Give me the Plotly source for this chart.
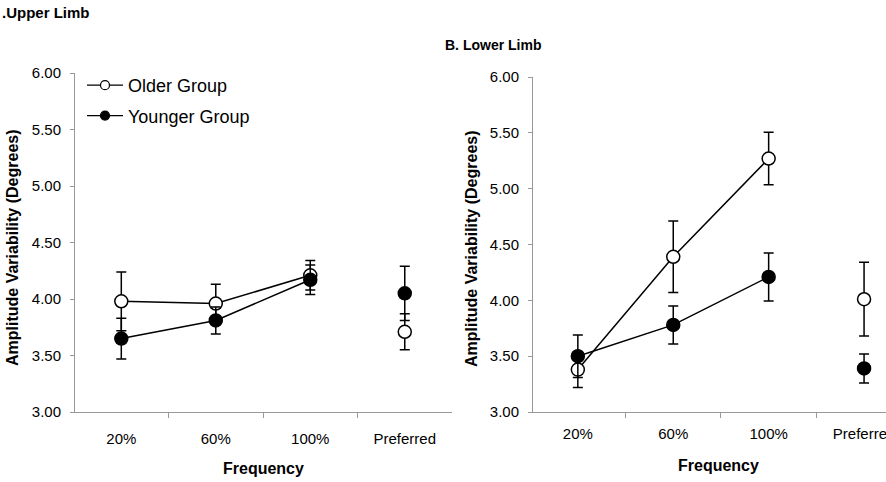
import plotly.graph_objects as go

categories = ["20%", "60%", "100%", "Preferred"]

# A. Upper limb
upper_older = [3.98, 3.96, 4.21, 3.71]
upper_older_err = [0.26, 0.17, 0.13, 0.16]
upper_younger = [3.65, 3.81, 4.17, 4.05]
upper_younger_err = [0.18, 0.12, 0.13, 0.24]

# B. Lower limb
lower_older = [3.38, 4.39, 5.27, 4.01]
lower_older_err = [0.16, 0.32, 0.235, 0.33]
lower_younger = [3.50, 3.78, 4.21, 3.39]
lower_younger_err = [0.19, 0.17, 0.215, 0.13]

y_ticks = [3.0, 3.5, 4.0, 4.5, 5.0, 5.5, 6.0]
y_ticktext = ["3.00", "3.50", "4.00", "4.50", "5.00", "5.50", "6.00"]

FONT = "Arial, 'Liberation Sans', sans-serif"

fig = go.Figure()


def add_group(vals, errs, name, filled, xa, ya):
    marker = dict(size=13, color="black" if filled else "white",
                  line=dict(color="black", width=1.5))
    err = lambda e: dict(type="data", array=e, symmetric=True, color="black",
                         thickness=1.5, width=5)
    fig.add_trace(go.Scatter(
        x=categories[:3], y=vals[:3], mode="lines+markers", name=name,
        line=dict(color="black", width=1.5), marker=marker,
        error_y=err(errs[:3]), xaxis=xa, yaxis=ya, showlegend=False,
    ))
    fig.add_trace(go.Scatter(
        x=categories[3:], y=vals[3:], mode="markers", name=name,
        marker=marker, error_y=err(errs[3:]), xaxis=xa, yaxis=ya,
        showlegend=False,
    ))


def add_legend_entry(name, filled, group):
    fig.add_trace(go.Scatter(
        x=[None], y=[None], mode="lines+markers", name=name, legendgroup=group,
        line=dict(color="black", width=1.2),
        marker=dict(size=9, color="black" if filled else "white",
                    line=dict(color="black", width=1.2)),
        xaxis="x", yaxis="y", showlegend=True,
    ))


add_legend_entry("Older Group", False, "older")
add_legend_entry("Younger Group", True, "younger")
add_group(upper_older, upper_older_err, "Older Group", False, "x", "y")
add_group(upper_younger, upper_younger_err, "Younger Group", True, "x", "y")
add_group(lower_older, lower_older_err, "Older Group", False, "x2", "y2")
add_group(lower_younger, lower_younger_err, "Younger Group", True, "x2", "y2")

W, H = 886, 482
tickfont = dict(family=FONT, size=15, color="black")

xcommon = dict(type="category", categoryorder="array", categoryarray=categories,
               showline=True, linecolor="#999", linewidth=1, showgrid=False,
               zeroline=False, ticks="outside", tickson="boundaries", ticklen=5,
               tickcolor="#999", tickfont=tickfont, automargin=False)
ycommon = dict(range=[3, 6], tickvals=y_ticks, ticktext=y_ticktext,
               showline=True, linecolor="#999", linewidth=1, showgrid=False,
               zeroline=False, ticks="outside", ticklen=4, tickcolor="#999",
               tickfont=tickfont, ticklabelstandoff=6, automargin=False)

fig.update_layout(
    width=W, height=H,
    margin=dict(l=0, r=0, t=0, b=0, autoexpand=False),
    paper_bgcolor="white", plot_bgcolor="white",
    font=dict(family=FONT, color="black"),
    xaxis=dict(xcommon, domain=[75 / W, 452 / W], range=[-0.49, 3.5], anchor="y",
               ticklabelstandoff=13),
    yaxis=dict(ycommon, domain=[(H - 412) / H, (H - 73) / H], anchor="x"),
    xaxis2=dict(xcommon, domain=[533 / W, 1.0], range=[-0.47, 3.23], anchor="y2",
                ticklabelstandoff=8),
    yaxis2=dict(ycommon, domain=[(H - 412) / H, (H - 77) / H], anchor="x2"),
    legend=dict(x=82 / W, y=(H - 67) / H, xanchor="left", yanchor="top",
                bgcolor="rgba(0,0,0,0)", font=dict(family=FONT, size=18),
                traceorder="grouped", tracegroupgap=4, itemwidth=36),
    annotations=[
        dict(text="<b>.Upper Limb</b>", x=0, y=1 - 12 / H, xref="paper", yref="paper",
             xanchor="left", yanchor="middle", showarrow=False,
             font=dict(family=FONT, size=15)),
        dict(text="<b>B. Lower Limb</b>", x=443 / W, y=1 - 45 / H, xref="paper", yref="paper",
             xanchor="left", yanchor="middle", showarrow=False,
             font=dict(family=FONT, size=14)),
        dict(text="<b>Amplitude Variability (Degrees)</b>", x=13 / W, y=1 - 248 / H,
             xref="paper", yref="paper", textangle=-90, showarrow=False,
             xanchor="center", yanchor="middle", font=dict(family=FONT, size=16)),
        dict(text="<b>Amplitude Variability (Degrees)</b>", x=472 / W, y=1 - 248 / H,
             xref="paper", yref="paper", textangle=-90, showarrow=False,
             xanchor="center", yanchor="middle", font=dict(family=FONT, size=16)),
        dict(text="<b>Frequency</b>", x=263 / W, y=1 - 468 / H, xref="paper", yref="paper",
             showarrow=False, xanchor="center", yanchor="middle",
             font=dict(family=FONT, size=16)),
        dict(text="<b>Frequency</b>", x=718 / W, y=1 - 465 / H, xref="paper", yref="paper",
             showarrow=False, xanchor="center", yanchor="middle",
             font=dict(family=FONT, size=16)),
    ],
)

fig.write_html("out.html")
